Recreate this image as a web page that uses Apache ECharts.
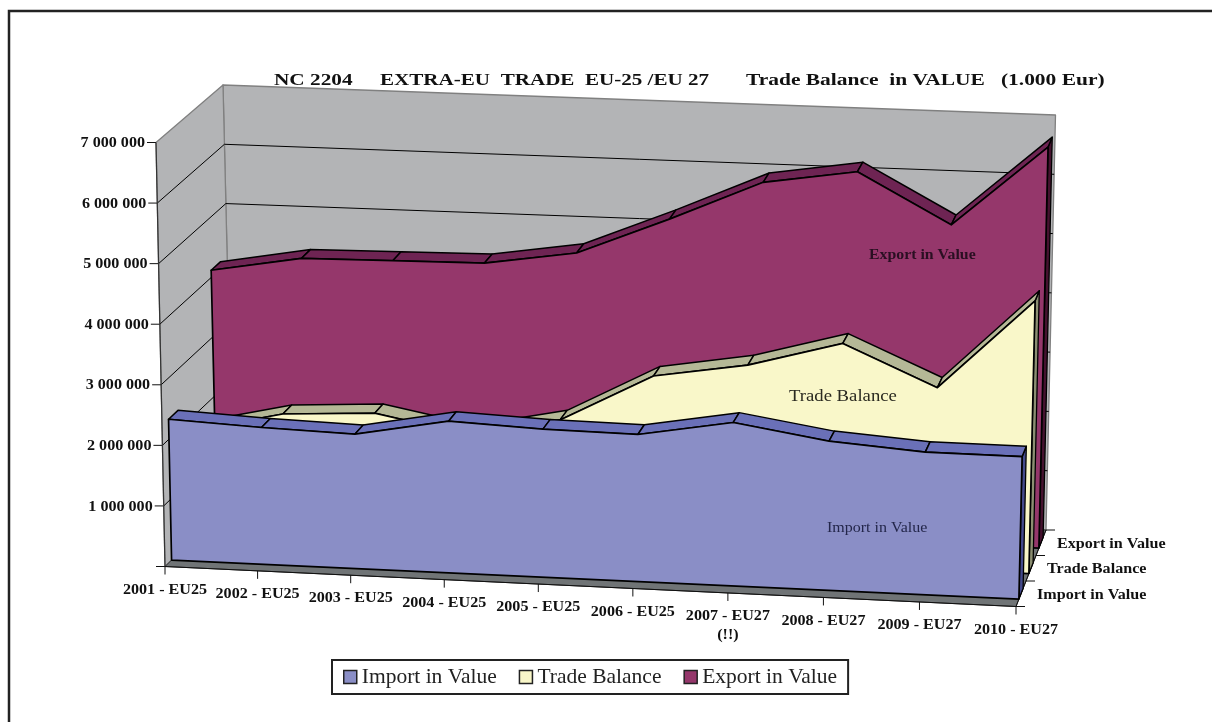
<!DOCTYPE html>
<html>
<head>
<meta charset="utf-8">
<style>
html, body { margin: 0; padding: 0; background: #fff; }
#main { width: 1212px; height: 722px; }
</style>
<script src="https://cdn.jsdelivr.net/npm/echarts@6/dist/echarts.min.js"></script>
</head>
<body>
<div id="main"></div>
<script>
var categories = ['2001 - EU25', '2002 - EU25', '2003 - EU25', '2004 - EU25', '2005 - EU25',
	'2006 - EU25', '2007 - EU27', '2008 - EU27', '2009 - EU27', '2010 - EU27'];
var valueTicks = [0, 1000000, 2000000, 3000000, 4000000, 5000000, 6000000, 7000000];
var seriesNames = ['Import in Value', 'Trade Balance', 'Export in Value'];

var importValues = [2330000, 2265000, 2227000, 2514000, 2455000, 2440000, 2713000, 2477000, 2370000, 2370000];
var tradeValues = [1790000, 2130000, 2210000, 1920000, 2230000, 3030000, 3280000, 3710000, 3040000, 4560000];
var exportValues = [4120000, 4380000, 4400000, 4420000, 4650000, 5280000, 5960000, 6200000, 5370000, 6740000];

var SERIF = '"Liberation Serif","Times New Roman",serif';

// corners of the 3D box on screen: front/back, bottom/top, left/right
var box = {
	fbl: [165, 566.5], fbr: [1016, 606.5], bbl: [233, 500], bbr: [1046, 530],
	ftl: [156, 142.5], ftr: [1025.5, 185], btl: [223, 85], btr: [1055.5, 115]
};

function mix(a, b, t) {
	return [a[0] + (b[0] - a[0]) * t, a[1] + (b[1] - a[1]) * t];
}

// u across categories, v up the value axis, w into the depth (all 0..1)
function project(u, v, w) {
	var k = 1.0237; // perspective: the right end is nearer
	var t = u / (k - (k - 1) * u);
	var bottom = mix(mix(box.fbl, box.fbr, t), mix(box.bbl, box.bbr, t), w);
	var top = mix(mix(box.ftl, box.ftr, t), mix(box.btl, box.btr, t), w);
	return mix(bottom, top, v);
}

// goes through the (hidden) cartesian axes, then into the box
function place(api, params, cat, val, w) {
	var p = api.coord([cat, val]);
	var c = params.coordSys;
	return project((p[0] - c.x) / c.width, (c.y + c.height - p[1]) / c.height, w);
}

function poly(points, fill, stroke, lineWidth) {
	return {
		type: 'polygon', silent: true, shape: { points: points },
		style: { fill: fill, stroke: stroke, lineWidth: lineWidth, lineJoin: 'round' }
	};
}

function line(a, b, color, width) {
	return {
		type: 'line', silent: true,
		shape: { x1: a[0], y1: a[1], x2: b[0], y2: b[1] },
		style: { stroke: color, lineWidth: width }
	};
}

function label(text, x, y, align, vAlign) {
	return {
		type: 'text', silent: true, x: x, y: y, scaleX: 1.15,
		style: {
			text: text, fill: '#111', align: align, verticalAlign: vAlign,
			font: 'bold 14px ' + SERIF, lineHeight: 19
		}
	};
}

function renderFrame(params, api) {
	if (params.dataIndex !== 0) return;
	var last = categories.length - 1;
	var top = valueTicks[valueTicks.length - 1];
	var kids = [];
	var p = function (c, v, w) { return place(api, params, c, v, w); };

	kids.push(poly([p(0, 0, 1), p(last, 0, 1), p(last, top, 1), p(0, top, 1)], '#b3b4b6', '#808080', 1.3));
	kids.push(poly([p(0, 0, 0), p(0, 0, 1), p(0, top, 1), p(0, top, 0)], '#b3b4b6', '#808080', 1.3));
	kids.push(poly([p(0, 0, 0), p(last, 0, 0), p(last, 0, 1), p(0, 0, 1)], '#707476', '#333', 1));

	valueTicks.forEach(function (v) {
		var a = p(0, v, 0);
		if (v > 0 && v < top) {
			kids.push(line(a, p(0, v, 1), '#000', 1));
			kids.push(line(p(0, v, 1), p(last, v, 1), '#000', 1));
		}
		kids.push(line([a[0] - 9, a[1]], a, '#111', 1));
		if (v > 0) {
			kids.push(label(String(v).replace(/\B(?=(\d{3})+$)/g, ' '), a[0] - 11, a[1] + 1, 'right', 'middle'));
		}
	});
	kids.push(line(p(0, 0, 0), p(0, top, 0), '#333', 1.2));

	categories.forEach(function (name, i) {
		var a = p(i, 0, 0);
		kids.push(line(a, [a[0], a[1] + 8], '#111', 1));
		var text = name == '2007 - EU27' ? name + '\n(!!)' : name;
		kids.push(label(text, a[0], a[1] + 14, 'center', 'top'));
	});
	kids.push(line(p(0, 0, 0), p(last, 0, 0), '#111', 1.2));

	// depth axis on the right of the floor
	kids.push(line(p(last, 0, 0), p(last, 0, 1), '#111', 1));
	[0, 1, 2, 3].forEach(function (d) {
		var a = p(last, 0, d / 3);
		kids.push(line(a, [a[0] + 9, a[1]], '#111', 1));
	});
	seriesNames.forEach(function (name, d) {
		var a = p(last, 0, (d + 0.5) / 3);
		kids.push(label(name, a[0] + 16, a[1] + 1.5, 'left', 'middle'));
	});
	return { type: 'group', children: kids };
}

function areaRenderer(values, slot, face, ribbon, side) {
	var wFront = (slot + 0.29) / 3, wBack = (slot + 0.71) / 3;
	return function (params, api) {
		if (params.dataIndex !== 0) return;
		var last = values.length - 1;
		var kids = [];
		var p = function (c, v, w) { return place(api, params, c, v, w); };
		kids.push(poly([p(last, values[last], wFront), p(last, 0, wFront), p(last, 0, wBack), p(last, values[last], wBack)], side, '#000', 1.3));
		for (var i = 0; i < last; i++) {
			kids.push(poly([p(i, values[i], wFront), p(i + 1, values[i + 1], wFront),
				p(i + 1, values[i + 1], wBack), p(i, values[i], wBack)], ribbon, '#000', 1.5));
		}
		var front = [p(0, 0, wFront)];
		values.forEach(function (v, c) { front.push(p(c, v, wFront)); });
		front.push(p(last, 0, wFront));
		kids.push(poly(front, face, '#000', 1.7));
		return { type: 'group', children: kids };
	};
}

function points(values) {
	return values.map(function (v, i) { return [i, v]; });
}

function areaSeries(name, values, slot, face, ribbon, side) {
	return {
		name: name, type: 'custom', coordinateSystem: 'cartesian2d',
		itemStyle: { color: face }, silent: true,
		renderItem: areaRenderer(values, slot, face, ribbon, side),
		data: points(values)
	};
}

function freeText(text, x, y, font, fill, scaleX) {
	return {
		type: 'text', silent: true, z: 50, x: x, y: y, scaleX: scaleX,
		style: { text: text, font: font, fill: fill, verticalAlign: 'middle' }
	};
}

var myChart = echarts.init(document.getElementById('main'));

var option = {
	animation: false,
	backgroundColor: '#fff',
	grid: { left: 165, top: 142, width: 851, height: 424 },
	xAxis: { type: 'category', data: categories, boundaryGap: false, show: false },
	yAxis: { type: 'value', min: 0, max: 7000000, interval: 1000000, show: false },
	legend: {
		left: 332, top: 660, orient: 'horizontal',
		padding: [6, 11, 6, 11],
		borderColor: '#222', borderWidth: 2, backgroundColor: '#fff',
		itemWidth: 13, itemHeight: 13, itemGap: 22, icon: 'rect',
		selectedMode: false,
		textStyle: { fontFamily: SERIF, fontSize: 21.5, color: '#222' },
		data: [
			{ name: 'Import in Value', itemStyle: { color: '#8a8ec6', borderColor: '#222', borderWidth: 1.5 } },
			{ name: 'Trade Balance', itemStyle: { color: '#f9f7c9', borderColor: '#222', borderWidth: 1.5 } },
			{ name: 'Export in Value', itemStyle: { color: '#95376b', borderColor: '#222', borderWidth: 1.5 } }
		]
	},
	graphic: [
		{ type: 'polyline', silent: true, shape: { points: [[9, 722], [9, 11], [1212, 11]] },
			style: { stroke: '#222', lineWidth: 2.5, fill: null } },
		freeText('NC 2204', 274, 81, 'bold 17px ' + SERIF, '#111', 1.25),
		freeText('EXTRA-EU  TRADE  EU-25 /EU 27', 380, 81, 'bold 17px ' + SERIF, '#111', 1.24),
		freeText('Trade Balance  in VALUE   (1.000 Eur)', 746, 81, 'bold 17px ' + SERIF, '#111', 1.262),
		freeText('Export in Value', 869, 255, 'bold 14px ' + SERIF, '#2a0f22', 1.13),
		freeText('Trade Balance', 789, 397, '17px ' + SERIF, '#2a2a20', 1.1),
		freeText('Import in Value', 827, 528, '15px ' + SERIF, '#23264a', 1.065)
	],
	series: [
		{
			name: 'frame', type: 'custom', coordinateSystem: 'cartesian2d', silent: true,
			renderItem: renderFrame,
			data: [[0, 0]]
		},
		areaSeries('Export in Value', exportValues, 2, '#95376b', '#6e2453', '#45122f'),
		areaSeries('Trade Balance', tradeValues, 1, '#f9f7c9', '#b5b896', '#8c8f72'),
		areaSeries('Import in Value', importValues, 0, '#8a8ec6', '#6a70b8', '#444a8c')
	]
};

myChart.setOption(option);
</script>
</body>
</html>
